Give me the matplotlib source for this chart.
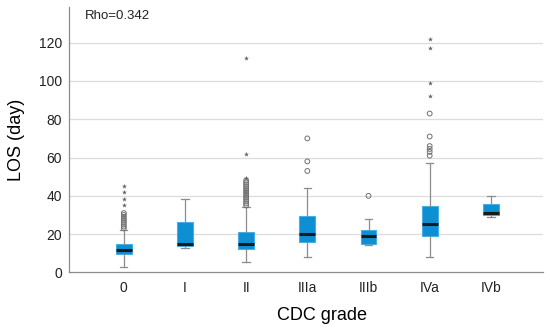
import matplotlib
matplotlib.use('Agg')
import matplotlib.pyplot as plt
import numpy as np

plt.rcParams['font.family'] = ['Liberation Sans', 'DejaVu Sans']

# CDC grade groups
grades = ['0', 'I', 'II', 'IIIa', 'IIIb', 'IVa', 'IVb']
q1 = [9.8, 13.9, 12.0, 15.8, 14.8, 19.0, 29.8]
med = [11.9, 14.8, 15.0, 20.0, 18.8, 25.4, 30.8]
q3 = [15.0, 26.3, 20.9, 29.4, 22.0, 34.8, 35.5]
whislo = [3.0, 12.9, 5.7, 7.8, 14.1, 7.8, 28.9]
whishi = [22.0, 38.2, 34.3, 43.9, 27.9, 57.0, 39.9]

# outliers (circles) and extremes (stars)
circles = {
  '0': [23, 24, 25, 26, 27, 28, 29, 30, 31],
  'II': [35, 36, 37, 38, 39, 40, 41, 42, 43, 44, 45, 46, 47, 48],
  'IIIa': [53, 58, 70],
  'IIIb': [40],
  'IVa': [61, 63, 64.5, 66, 71, 83],
}
stars = {
  '0': [35.2, 38.3, 41.8, 45.3],
  'II': [49.5, 62, 112],
  'IVa': [92, 99, 117, 122],
}

fig = plt.figure(figsize=(5.5, 3.29), dpi=100)
ax = fig.add_axes([0.125, 0.172, 0.862, 0.807])

stats = []
for i, g in enumerate(grades):
  stats.append({'med': med[i], 'q1': q1[i], 'q3': q3[i],
                'whislo': whislo[i], 'whishi': whishi[i], 'fliers': []})

pos = np.arange(len(grades))
ax.bxp(stats, positions=pos, widths=0.26, patch_artist=True, showfliers=False,
       boxprops=dict(facecolor='#0d8fd3', edgecolor='#4aaee3', linewidth=0.8),
       medianprops=dict(color='#1a1a1a', linewidth=2.2),
       whiskerprops=dict(color='#8c8c8c', linewidth=0.9),
       capprops=dict(color='#8c8c8c', linewidth=0.9), capwidths=0.12)

for g, vals in circles.items():
  x = grades.index(g)
  ax.scatter([x] * len(vals), vals, s=12, facecolors='none', edgecolors='#707070',
             linewidths=0.7, zorder=3)
for g, vals in stars.items():
  x = grades.index(g)
  ax.scatter([x] * len(vals), vals, s=14, marker='*', color='#606060',
             linewidths=0, zorder=3)

ax.set_xlim(-0.9, 6.85)
ax.set_ylim(0, 138.7)
ax.set_yticks([0, 20, 40, 60, 80, 100, 120])
ax.set_xticks(pos)
ax.set_xticklabels(grades)
for y_val in [20, 40, 60, 80, 100, 120]:
  ax.axhline(y=y_val, color='#dcdcdc', linewidth=0.9, zorder=0)

ax.tick_params(axis='both', length=0, labelsize=10, colors='#222222')
ax.tick_params(axis='x', pad=6)
ax.tick_params(axis='y', pad=5)
for s in ['top', 'right']:
  ax.spines[s].set_visible(False)
for s in ['left', 'bottom']:
  ax.spines[s].set_color('#8c8c8c')
  ax.spines[s].set_linewidth(0.9)

ax.set_ylabel('LOS (day)', fontsize=13, labelpad=10)
fig.text(322 / 550, 1 - 316 / 329, 'CDC grade', fontsize=13, ha='center', va='center')
ax.text(0.035, 0.965, 'Rho=0.342', transform=ax.transAxes, fontsize=9.5,
        va='center', ha='left', color='#222222')

fig.savefig('out.png', dpi=100)
